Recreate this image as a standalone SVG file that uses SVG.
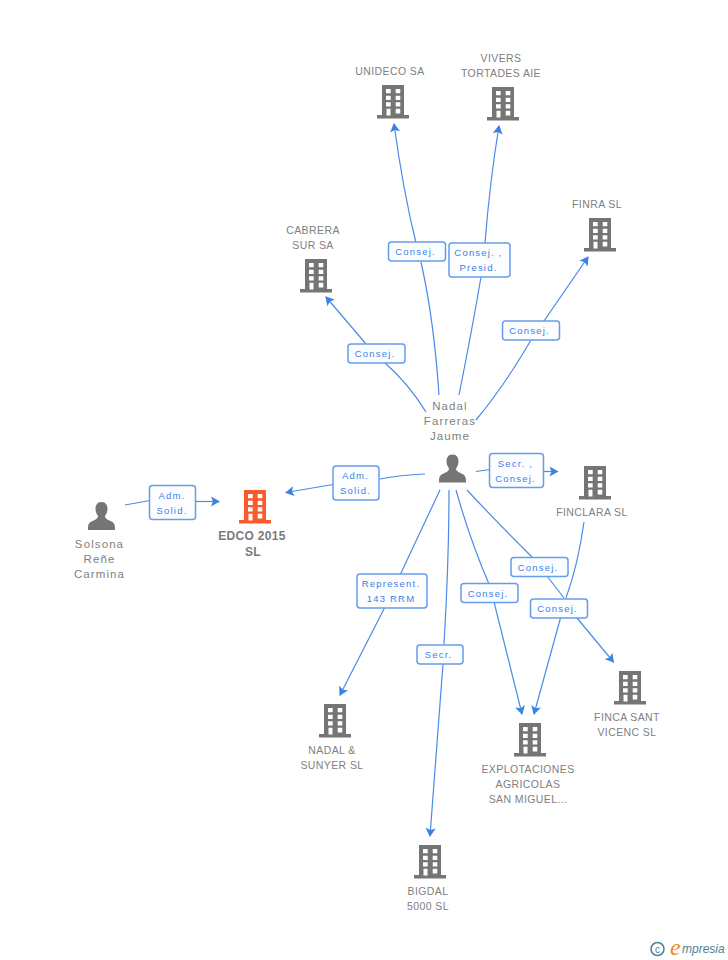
<svg xmlns="http://www.w3.org/2000/svg" width="728" height="960" viewBox="0 0 728 960">
<style>
text{font-family:"Liberation Sans",Arial,sans-serif}
.n{font-size:10.5px;fill:#808080;text-anchor:middle;letter-spacing:.4px}
.p{font-size:11.5px;fill:#808080;text-anchor:middle;letter-spacing:1.1px}
.b{font-size:12px;font-weight:bold;fill:#7a7a7a;text-anchor:middle;letter-spacing:.3px}
.l{font-size:9.5px;fill:#3b82e6;text-anchor:middle;letter-spacing:1.2px}
.e{fill:none;stroke:#4a8ae8;stroke-width:1.2}
.h{marker-end:url(#arr)}
.r{fill:#fcfdff;stroke:#659cec;stroke-width:1.5}
</style>
<defs>
<marker id="arr" markerUnits="userSpaceOnUse" markerWidth="14" markerHeight="14" viewBox="-10 -7 14 14" refX="0" refY="0" orient="auto"><path fill="#3b82e6" d="M1 0L-8-5L-6 0L-8 5Z"/></marker>
<g id="bld"><path fill="currentColor" fill-rule="evenodd" d="M-11-17H11V13H16V16.500H-16V13H-11ZM-7-13V-8.700H-2.300V-13ZM2.700-13V-8.700H7.300V-13ZM-7-6.300V-2H-2.300V-6.300ZM2.700-6.300V-2H7.300V-6.300ZM-7 .2V4.500H-2.300V.2ZM2.700 .2V4.500H7.300V.2ZM-6.500 6.700V13.500H-2.500V6.700ZM2.700 6.700V11.500H7.300V6.700Z"/></g>
<g id="per"><path fill="#757575" d="M0-14.500C-4.500-14.500-6-11-6-7.500C-6-4-4.500-2-3.500-.5C-3.500 2-6 3-9 4.500C-12 6-13.500 7-13.500 12V13.500H13.500V12C13.500 7 12 6 9 4.500C6 3 3.500 2 3.500-.5C4.500-2 6-4 6-7.500C6-11 4.500-14.500 0-14.500Z"/></g>
</defs>
<g id="connectors">
<path class="e" d="M125 505L150 500.500"/><path class="e h" d="M196 501.500L219 501.500"/>
<path class="e" d="M425 474Q400 475 380 479"/><path class="e h" d="M333 484.500L286 492.500"/>
<path class="e" d="M439 395Q434 320 421 262"/><path class="e h" d="M416 243Q403 190 394 124"/>
<path class="e" d="M459 395Q472 330 481 277"/><path class="e h" d="M485 243Q490 180 499 126"/>
<path class="e" d="M426 412Q408 383 385 363"/><path class="e h" d="M366 344L326 297"/>
<path class="e" d="M476 420Q505 385 531 340"/><path class="e h" d="M544 321L588 257"/>
<path class="e" d="M476 471.500L490 469.500"/><path class="e h" d="M544 471.500L557.500 471.500"/>
<path class="e" d="M440 490L385 607"/><path class="e h" d="M385 607L340 695"/>
<path class="e" d="M449 490Q449 560 444 644"/><path class="e h" d="M443 664L430 836"/>
<path class="e" d="M456 490Q470 540 489 584"/><path class="e h" d="M494 602L522 714"/>
<path class="e" d="M467 490Q490 515 532 557M547 576L564 598"/><path class="e h" d="M577 618L613.500 662"/>
<path class="e" d="M584 522Q578 565 566 598"/><path class="e h" d="M560.500 618L534 714"/>
</g>
<g id="node-unideco"><text class="n" x="390" y="75">UNIDECO SA</text><use href="#bld" x="393" y="102" color="#757575"/></g>
<g id="node-vivers"><text class="n" x="501" y="62">VIVERS</text><text class="n" x="501" y="77">TORTADES AIE</text><use href="#bld" x="503" y="104" color="#757575"/></g>
<g id="node-cabrera"><text class="n" x="313" y="234">CABRERA</text><text class="n" x="313" y="249">SUR SA</text><use href="#bld" x="316" y="276" color="#757575"/></g>
<g id="node-finra"><text class="n" x="597" y="208">FINRA SL</text><use href="#bld" x="600" y="235" color="#757575"/></g>
<g id="node-nadal"><text class="p" x="450" y="410">Nadal</text><text class="p" x="450" y="425">Farreras</text><text class="p" x="450" y="440">Jaume</text><use href="#per" x="452.500" y="469"/></g>
<g id="node-solsona"><text class="p" x="99.500" y="548">Solsona</text><text class="p" x="99.500" y="563">Reñe</text><text class="p" x="99.500" y="578">Carmina</text><use href="#per" x="101.500" y="516.500"/></g>
<g id="node-edco"><use href="#bld" x="255" y="507" color="#fa5a2d"/><text class="b" x="252" y="540">EDCO 2015</text><text class="b" x="253" y="556">SL</text></g>
<g id="node-finclara"><use href="#bld" x="595" y="483" color="#757575"/><text class="n" x="592" y="516">FINCLARA SL</text></g>
<g id="node-fincasant"><use href="#bld" x="630" y="688" color="#757575"/><text class="n" x="627" y="721">FINCA SANT</text><text class="n" x="627" y="736">VICENC SL</text></g>
<g id="node-nadalsunyer"><use href="#bld" x="335" y="721" color="#757575"/><text class="n" x="332" y="754">NADAL &amp;</text><text class="n" x="332" y="769">SUNYER SL</text></g>
<g id="node-explot"><use href="#bld" x="530" y="740" color="#757575"/><text class="n" x="528" y="773">EXPLOTACIONES</text><text class="n" x="528" y="788">AGRICOLAS</text><text class="n" x="528" y="803">SAN MIGUEL...</text></g>
<g id="node-bigdal"><use href="#bld" x="430" y="862" color="#757575"/><text class="n" x="428" y="895">BIGDAL</text><text class="n" x="428" y="910">5000 SL</text></g>
<g id="labels">
<g><rect class="r" x="149.500" y="485.500" width="46" height="34" rx="3"/><text class="l" x="172" y="499">Adm.</text><text class="l" x="172" y="514">Solid.</text></g>
<g><rect class="r" x="333" y="466" width="46" height="34" rx="3"/><text class="l" x="355.500" y="479">Adm.</text><text class="l" x="355.500" y="494">Solid.</text></g>
<g><rect class="r" x="388.500" y="242" width="57" height="19" rx="3"/><text class="l" x="415.500" y="255">Consej.</text></g>
<g><rect class="r" x="449" y="243" width="61" height="34" rx="3"/><text class="l" x="478.500" y="256">Consej. ,</text><text class="l" x="478.500" y="271">Presid.</text></g>
<g><rect class="r" x="348" y="344" width="57" height="19" rx="3"/><text class="l" x="375" y="357">Consej.</text></g>
<g><rect class="r" x="502.500" y="321" width="57" height="19" rx="3"/><text class="l" x="529.500" y="334">Consej.</text></g>
<g><rect class="r" x="489.500" y="453.500" width="54" height="34" rx="3"/><text class="l" x="515.500" y="467">Secr. ,</text><text class="l" x="515.500" y="482">Consej.</text></g>
<g><rect class="r" x="357" y="574" width="70" height="34" rx="3"/><text class="l" x="391" y="587">Represent.</text><text class="l" x="391" y="602">143 RRM</text></g>
<g><rect class="r" x="417" y="645" width="46" height="19" rx="3"/><text class="l" x="438.500" y="658">Secr.</text></g>
<g><rect class="r" x="461" y="583.500" width="57" height="19" rx="3"/><text class="l" x="488" y="596.500">Consej.</text></g>
<g><rect class="r" x="511" y="557.500" width="57" height="19" rx="3"/><text class="l" x="538" y="570.500">Consej.</text></g>
<g><rect class="r" x="530.500" y="599" width="57" height="19" rx="3"/><text class="l" x="557.500" y="612">Consej.</text></g>
</g>
<g id="logo"><circle cx="657.500" cy="949" r="6.500" fill="none" stroke="#4a7f94" stroke-width="1.500"/><text x="657.500" y="952.500" font-size="10" text-anchor="middle" fill="#4a7f94">c</text><text x="670" y="955" font-size="24" font-style="italic" fill="#f08a1d" style="font-family:'Liberation Serif',serif">e</text><text x="682" y="953" font-size="12" font-style="italic" fill="#4a7f94">mpresia</text></g>
</svg>
